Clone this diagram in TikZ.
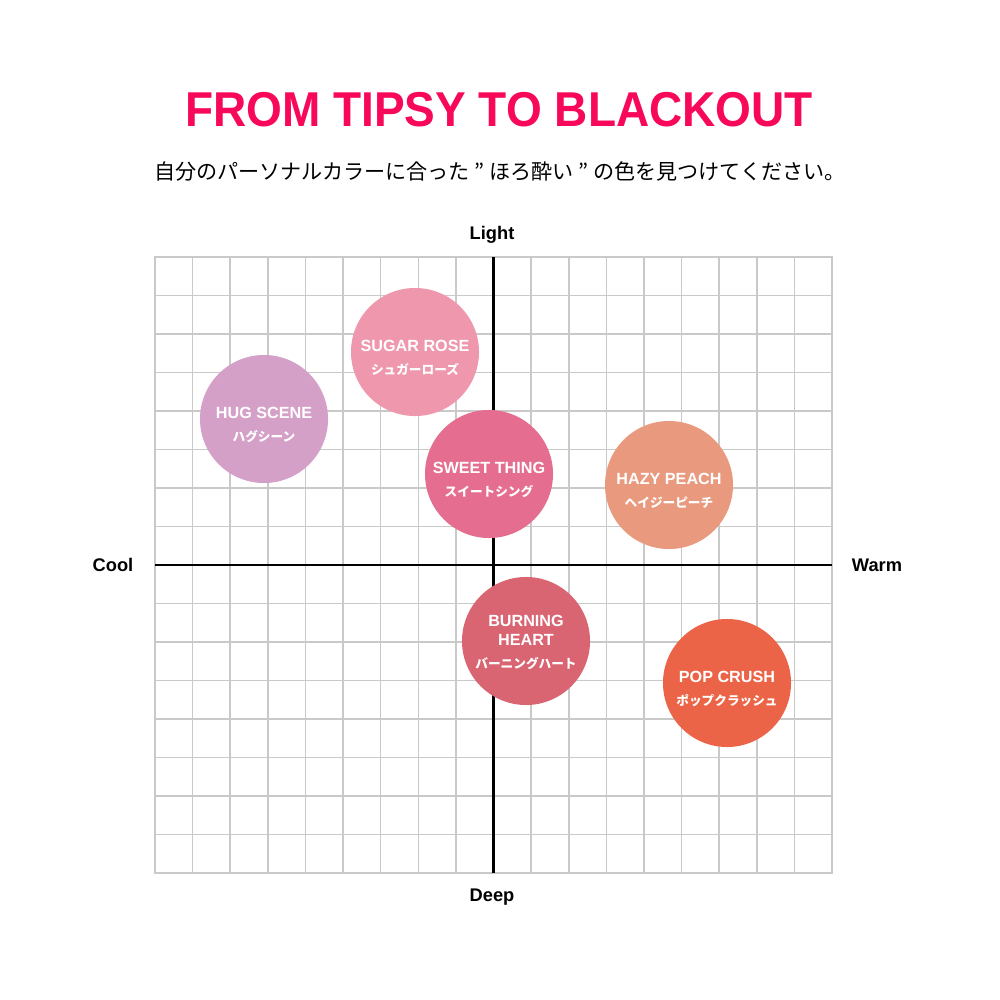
\documentclass[tikz,border=0pt]{standalone}
\usepackage{fontspec}
\setmainfont{Liberation Sans}
\newfontfamily\jpfont{Noto Sans CJK JP}
\usepackage{tikz}
\usetikzlibrary{positioning}
\definecolor{titlepink}{HTML}{F7085A}
\definecolor{gridgrey}{HTML}{C9C9C9}
\definecolor{hugscene}{HTML}{D5A0C8}
\definecolor{sugarrose}{HTML}{EE97AD}
\definecolor{sweetthing}{HTML}{E56E90}
\definecolor{hazypeach}{HTML}{E99A7E}
\definecolor{burningheart}{HTML}{D96472}
\definecolor{popcrush}{HTML}{EC6447}
\tikzstyle{gridline} = [draw=gridgrey, line width=1.1pt]
\tikzstyle{axis} = [draw=black, line width=1.5pt]
\tikzstyle{axislabel} = [font=\bfseries\fontsize{13}{15}\selectfont]
\tikzstyle{lip} = [circle, minimum size=3.2cm, inner sep=0pt]
\tikzstyle{lipname} = [text=white, align=center, font=\bfseries\fontsize{11.5}{13.5}\selectfont]
\newcommand{\lipjp}[1]{{\jpfont\bfseries\fontsize{9}{11}\selectfont #1}}

\begin{document}
\begin{tikzpicture}[x=0.025cm, y=-0.025cm]
    \useasboundingbox (0,0) rectangle (1000,1000);
    \fill[white] (0,0) rectangle (1000,1000);

    \node [text=titlepink, font=\bfseries\fontsize{34.8}{40}\selectfont] (title) at (499,110) {\scalebox{0.94}[1]{FROM TIPSY TO BLACKOUT}};
    \node [font=\jpfont\fontsize{15}{18}\selectfont] (subtitle) at (500,172) {自分のパーソナルカラーに合った ” ほろ酔い ” の色を見つけてください。};

    % grid
    \foreach \i in {1,...,17}
        \draw [gridline] ({155+\i*677/18},257) -- ({155+\i*677/18},873);
    \foreach \j in {1,...,15}
        \draw [gridline] (155,{257+\j*616/16}) -- (832,{257+\j*616/16});
    \draw [gridline] (155,257) rectangle (832,873);

    \coordinate (top) at (493.5,257);
    \coordinate (bottom) at (493.5,873);
    \coordinate (left) at (155,565);
    \coordinate (right) at (832,565);
    \draw [axis] (top) -- (bottom);
    \draw [axis] (left) -- (right);

    \node [axislabel] (light) at (492,235) {Light};
    \node [axislabel] (deep) at (492,897) {Deep};
    \node [axislabel] (cool) at (113,565) {Cool};
    \node [axislabel] (warm) at (877,565) {Warm};

    % lipsticks
    \node [lip, fill=hugscene] (hug) at (264,419) {};
    \node [lip, fill=sugarrose] (sugar) at (415,352) {};
    \node [lip, fill=sweetthing] (sweet) at (489,474) {};
    \node [lip, fill=hazypeach] (hazy) at (669,485) {};
    \node [lip, fill=burningheart] (burning) at (526,641) {};
    \node [lip, fill=popcrush] (pop) at (727,683) {};

    \node [lipname] (hugtext) at ([yshift=-4pt]hug.center) {HUG SCENE\\[3pt]\lipjp{ハグシーン}};
    \node [lipname] (sugartext) at ([yshift=-4pt]sugar.center) {SUGAR ROSE\\[3pt]\lipjp{シュガーローズ}};
    \node [lipname] (sweettext) at ([yshift=-4pt]sweet.center) {SWEET THING\\[3pt]\lipjp{スイートシング}};
    \node [lipname] (hazytext) at ([yshift=-4pt]hazy.center) {HAZY PEACH\\[3pt]\lipjp{ヘイジーピーチ}};
    \node [lipname] (burningtext) at ([yshift=-1pt]burning.center) {BURNING\\HEART\\[3pt]\lipjp{バーニングハート}};
    \node [lipname] (poptext) at ([yshift=-4pt]pop.center) {POP CRUSH\\[3pt]\lipjp{ポップクラッシュ}};
\end{tikzpicture}
\end{document}
